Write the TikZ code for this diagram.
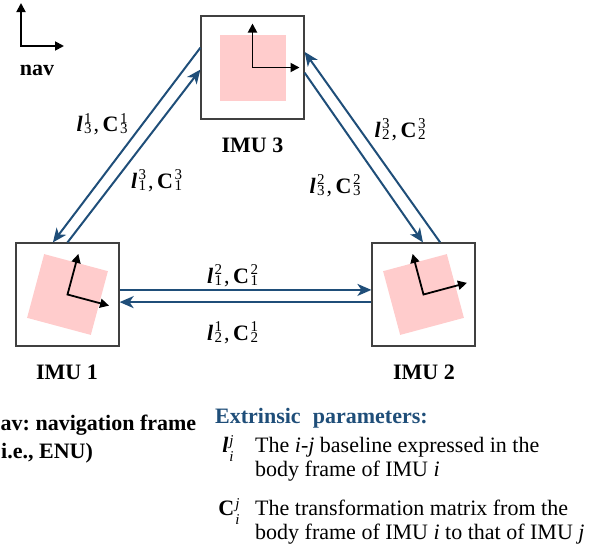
\documentclass[tikz,border=0pt]{standalone}
\usepackage{fontspec}
\setmainfont{Liberation Serif}
\usetikzlibrary{arrows.meta,calc}
\definecolor{arrowblue}{RGB}{31,78,121}
\definecolor{pinkfill}{RGB}{255,204,204}
\frenchspacing
\newcommand\ssz{\fontsize{15}{15}\selectfont}
\newcommand\imlab[3]{#1\kern1.5pt\rlap{\raisebox{8.5pt}{\ssz #3}}\raisebox{-2pt}{\ssz #2}}
\newcommand\imleg[3]{#1\kern1pt\rlap{\raisebox{7pt}{\ssz #3}}\raisebox{-9pt}{\ssz #2}}
\newcommand\pairlab[2]{\imlab{\textbf{\textit{l}}}{#1}{#2}\kern2pt,\kern3.5pt\imlab{\textbf{C}}{#1}{#2}}
\begin{document}
\begin{tikzpicture}[x=1pt,y=1pt,
  imubox/.style={draw=black!75,line width=1.2pt,minimum size=103pt,inner sep=0pt},
  link/.style={draw=arrowblue,line width=2pt,-{Stealth[length=14pt,width=12pt,inset=4pt]}},
  axisboth/.style={line width=1.8pt,{Triangle[length=9pt,width=9pt]}-{Triangle[length=9pt,width=9pt]}},
  lbl/.style={font=\fontsize{22}{24}\selectfont\bfseries,inner sep=0pt,anchor=base},
  mlab/.style={font=\fontsize{22}{24}\selectfont,inner sep=0pt,anchor=base},
  txt/.style={font=\fontsize{22}{24}\selectfont,inner sep=0pt,anchor=base west}]
\useasboundingbox (0,0) rectangle (602,-549);
% nav frame
\coordinate (navo) at (21,-46);
\coordinate (navy) at (21,-3);
\coordinate (navx) at (64,-46);
\draw[axisboth] (navy) -- (navo) -- (navx);
\node[lbl] (navlbl) at (37,-75) {nav};
% IMU boxes
\node[imubox] (imu3) at (252.5,-67.5) {};
\node[imubox] (imu1) at (67.5,-294.5) {};
\node[imubox] (imu2) at (423.5,-294.5) {};
\begin{scope}[shift={(imu3.center)}]
  \fill[pinkfill] (-33,-33) rectangle (33,33);
  \draw[axisboth] (0,44) -- (0,0) -- (47,0);
\end{scope}
\begin{scope}[shift={(imu1.center)},rotate=-15]
  \fill[pinkfill] (-33,-33) rectangle (33,33);
  \draw[axisboth] (0,42) -- (0,0) -- (43,0);
\end{scope}
\begin{scope}[shift={(imu2.center)},rotate=15]
  \fill[pinkfill] (-33,-33) rectangle (33,33);
  \draw[axisboth] (0,42) -- (0,0) -- (45,0);
\end{scope}
\node[lbl] (lab3) at (252.5,-152.7) {IMU 3};
\node[lbl] (lab1) at (67,-379) {IMU 1};
\node[lbl] (lab2) at (424,-379) {IMU 2};
% links
\draw[link] ($(imu3.north west)!0.31!(imu3.south west)$) -- ($(imu1.north west)!0.36!(imu1.north east)$);
\draw[link] ($(imu1.north west)!0.50!(imu1.north east)$) -- ($(imu3.north west)!0.52!(imu3.south west)$);
\draw[link] ($(imu3.north east)!0.55!(imu3.south east)$) -- ($(imu2.north west)!0.495!(imu2.north east)$);
\draw[link] ($(imu2.north west)!0.66!(imu2.north east)$) -- ($(imu3.north east)!0.35!(imu3.south east)$);
\draw[link] ($(imu1.north east)!0.456!(imu1.south east)$) -- ($(imu2.north west)!0.456!(imu2.south west)$);
\draw[link] ($(imu2.north west)!0.573!(imu2.south west)$) -- ($(imu1.north east)!0.573!(imu1.south east)$);
% link labels
\node[mlab] (l12) at (232.5,-283.3) {\pairlab{1}{2}};
\node[mlab] (l21) at (232.5,-340) {\pairlab{2}{1}};
\node[mlab] (l31) at (102,-131.7) {\pairlab{3}{1}};
\node[mlab] (l13) at (156.5,-188.3) {\pairlab{1}{3}};
\node[mlab] (l23) at (400,-137.3) {\pairlab{2}{3}};
\node[mlab] (l32) at (335,-193.3) {\pairlab{3}{2}};
% nav definition
\node[lbl,anchor=base west] (navdef1) at (0.5,-430) {av: navigation frame};
\node[lbl,anchor=base west] (navdef2) at (1,-458) {i.e., ENU)};
% legend
\node[lbl,anchor=base west,text=arrowblue] (ext) at (215,-423) {Extrinsic\hspace{0.3em} parameters:};
\node[mlab] (symL) at (228,-452) {\imleg{\textbf{\textit{l}}}{\textit{i}}{\textit{j}}};
\node[txt] (d1a) at (255,-452) {The \textit{i}-\textit{j} baseline expressed in the};
\node[txt] (d1b) at (255,-476) {body frame of IMU \textit{i}};
\node[mlab] (symC) at (229,-515) {\imleg{\textbf{C}}{\textit{i}}{\textit{j}}};
\node[txt] (d2a) at (255,-515) {The transformation matrix from the};
\node[txt] (d2b) at (255,-539) {body frame of IMU \textit{i} to that of IMU \textit{j}};
\end{tikzpicture}
\end{document}
